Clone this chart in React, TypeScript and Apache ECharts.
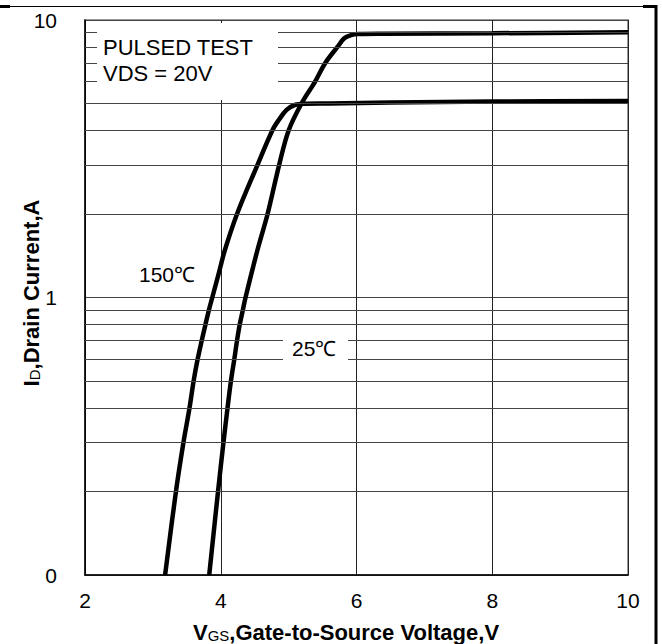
import React, { useEffect, useRef } from "react";
import * as echarts from "echarts";

// 150°C curve (VGS in V, ID in A)
const vgs150 = [3.18, 3.34, 3.45, 3.54, 3.6, 3.66, 3.72, 3.775, 3.825, 3.875, 3.97, 4.06, 4.24, 4.54, 4.76, 4.86, 4.97, 5.09, 5.25, 5.6, 6.5, 8, 10];
const id150 = [0.1, 0.2, 0.3, 0.4, 0.5, 0.6, 0.7, 0.8, 0.9, 1.0, 1.22, 1.48, 2.0, 3.0, 4.0, 4.38, 4.74, 4.94, 4.99, 5.0, 5.04, 5.08, 5.11];
// 25°C curve
const vgs25 = [3.83, 3.96, 4.04, 4.1, 4.15, 4.2, 4.24, 4.28, 4.325, 4.365, 4.54, 4.69, 4.86, 5.0, 5.19, 5.39, 5.54, 5.72, 5.82, 5.92, 6.02, 6.4, 8, 10];
const id25 = [0.1, 0.2, 0.3, 0.4, 0.5, 0.6, 0.7, 0.8, 0.9, 1.0, 1.48, 2.0, 3.0, 4.0, 5.0, 6.0, 7.0, 8.0, 8.6, 8.82, 8.9, 8.93, 8.96, 9.03];

const minorGrid = [0.2, 0.3, 0.4, 0.5, 0.6, 0.7, 0.8, 0.9, 2, 3, 4, 5, 6, 7, 8, 9];
const xRange = [2, 10];
const yRange = [0.1, 10];

const FONT = "'Liberation Sans', Arial, sans-serif";

export default function App() {
  const ref = useRef<HTMLDivElement>(null);
  useEffect(() => {
    document.body.style.margin = "0";
    const chart = echarts.init(ref.current!, null, { renderer: "svg" });
    const pairs = (xs: number[], ys: number[]) => xs.map((x, i) => [x, ys[i]]);
    const bold = (size: number) => ({ fontSize: size, fontWeight: "bold", fontFamily: FONT, fill: "#000", lineHeight: 24, verticalAlign: "bottom" });
    const sub = { fontSize: 15, fontFamily: FONT, fill: "#000", lineHeight: 15, verticalAlign: "bottom" };
    chart.setOption({
      animation: false,
      backgroundColor: "#fff",
      grid: { left: 85, right: 34, top: 20, bottom: 69, show: true, borderColor: "#999", borderWidth: 2 },
      xAxis: {
        type: "value",
        min: xRange[0],
        max: xRange[1],
        interval: 2,
        axisLine: { show: true, lineStyle: { color: "#000", width: 1.5 } },
        axisTick: { show: false },
        axisLabel: { fontSize: 21, color: "#000", fontFamily: FONT, margin: 15 },
        splitLine: { show: true, lineStyle: { color: "#222", width: 1 } },
      },
      yAxis: {
        type: "log",
        logBase: 10,
        min: yRange[0],
        max: yRange[1],
        axisLine: { show: true, lineStyle: { color: "#000", width: 1.5 } },
        axisTick: { show: false },
        axisLabel: {
          fontSize: 21,
          color: "#000",
          fontFamily: FONT,
          margin: 28,
          formatter: (v: number) => (v < 0.5 ? "0" : String(Math.round(v))),
        },
        splitLine: { show: true, lineStyle: { color: "#444", width: 1 } },
      },
      series: [
        {
          type: "line",
          data: [],
          silent: true,
          z: 1,
          markLine: {
            silent: true,
            symbol: ["none", "none"],
            label: { show: false },
            lineStyle: { color: "#444", width: 1, type: "solid" },
            data: minorGrid.map((v) => ({ yAxis: v })),
          },
        },
        {
          name: "150℃",
          type: "line",
          data: pairs(vgs150, id150),
          showSymbol: false,
          smooth: 0.35,
          z: 3,
          lineStyle: { color: "#000", width: 4.5 },
        },
        {
          name: "25℃",
          type: "line",
          data: pairs(vgs25, id25),
          showSymbol: false,
          smooth: 0.35,
          z: 3,
          lineStyle: { color: "#000", width: 4.5 },
        },
      ],
      graphic: [
        { type: "rect", shape: { x: 97, y: 23, width: 181, height: 77 }, style: { fill: "#fff" }, z: 50 },
        { type: "rect", shape: { x: 283, y: 331, width: 65, height: 32 }, style: { fill: "#fff" }, z: 50 },
        { type: "text", x: 103, y: 47, z: 60, style: { text: "PULSED TEST", fill: "#000", font: `22px ${FONT}`, textVerticalAlign: "middle" } },
        { type: "text", x: 103, y: 73, z: 60, style: { text: "VDS = 20V", fill: "#000", font: `22px ${FONT}`, textVerticalAlign: "middle" } },
        { type: "text", x: 139, y: 274, z: 60, style: { text: "150℃", fill: "#000", font: `21px ${FONT}`, textVerticalAlign: "middle" } },
        { type: "text", x: 292, y: 348, z: 60, style: { text: "25℃", fill: "#000", font: `21px ${FONT}`, textVerticalAlign: "middle" } },
        {
          type: "text",
          x: 346,
          y: 631,
          z: 60,
          style: {
            text: "{v|V}{s|GS}{b|,Gate-to-Source Voltage,V}",
            textAlign: "center",
            textVerticalAlign: "middle",
            rich: { v: bold(22), s: sub, b: bold(22) },
          },
        },
        {
          type: "text",
          x: 30,
          y: 293,
          rotation: Math.PI / 2,
          z: 60,
          style: {
            text: "{i|I}{d|D}{b|,Drain Current,A}",
            textAlign: "center",
            textVerticalAlign: "middle",
            rich: { i: bold(22), d: sub, b: bold(22) },
          },
        },
        // outer frame
        { type: "line", z: 60, shape: { x1: 0, y1: 6.5, x2: 646, y2: 6.5 }, style: { stroke: "#000", lineWidth: 1.2 } },
        { type: "line", z: 60, shape: { x1: 0, y1: 6.5, x2: 10, y2: 6.5 }, style: { stroke: "#000", lineWidth: 3 } },
        { type: "line", z: 60, shape: { x1: 643, y1: 6.5, x2: 657, y2: 6.5 }, style: { stroke: "#000", lineWidth: 3 } },
        { type: "line", z: 60, shape: { x1: 656, y1: 5, x2: 656, y2: 644 }, style: { stroke: "#000", lineWidth: 3 } },
      ],
    });
    return () => chart.dispose();
  }, []);
  return <div ref={ref} style={{ width: 662, height: 644 }} />;
}
